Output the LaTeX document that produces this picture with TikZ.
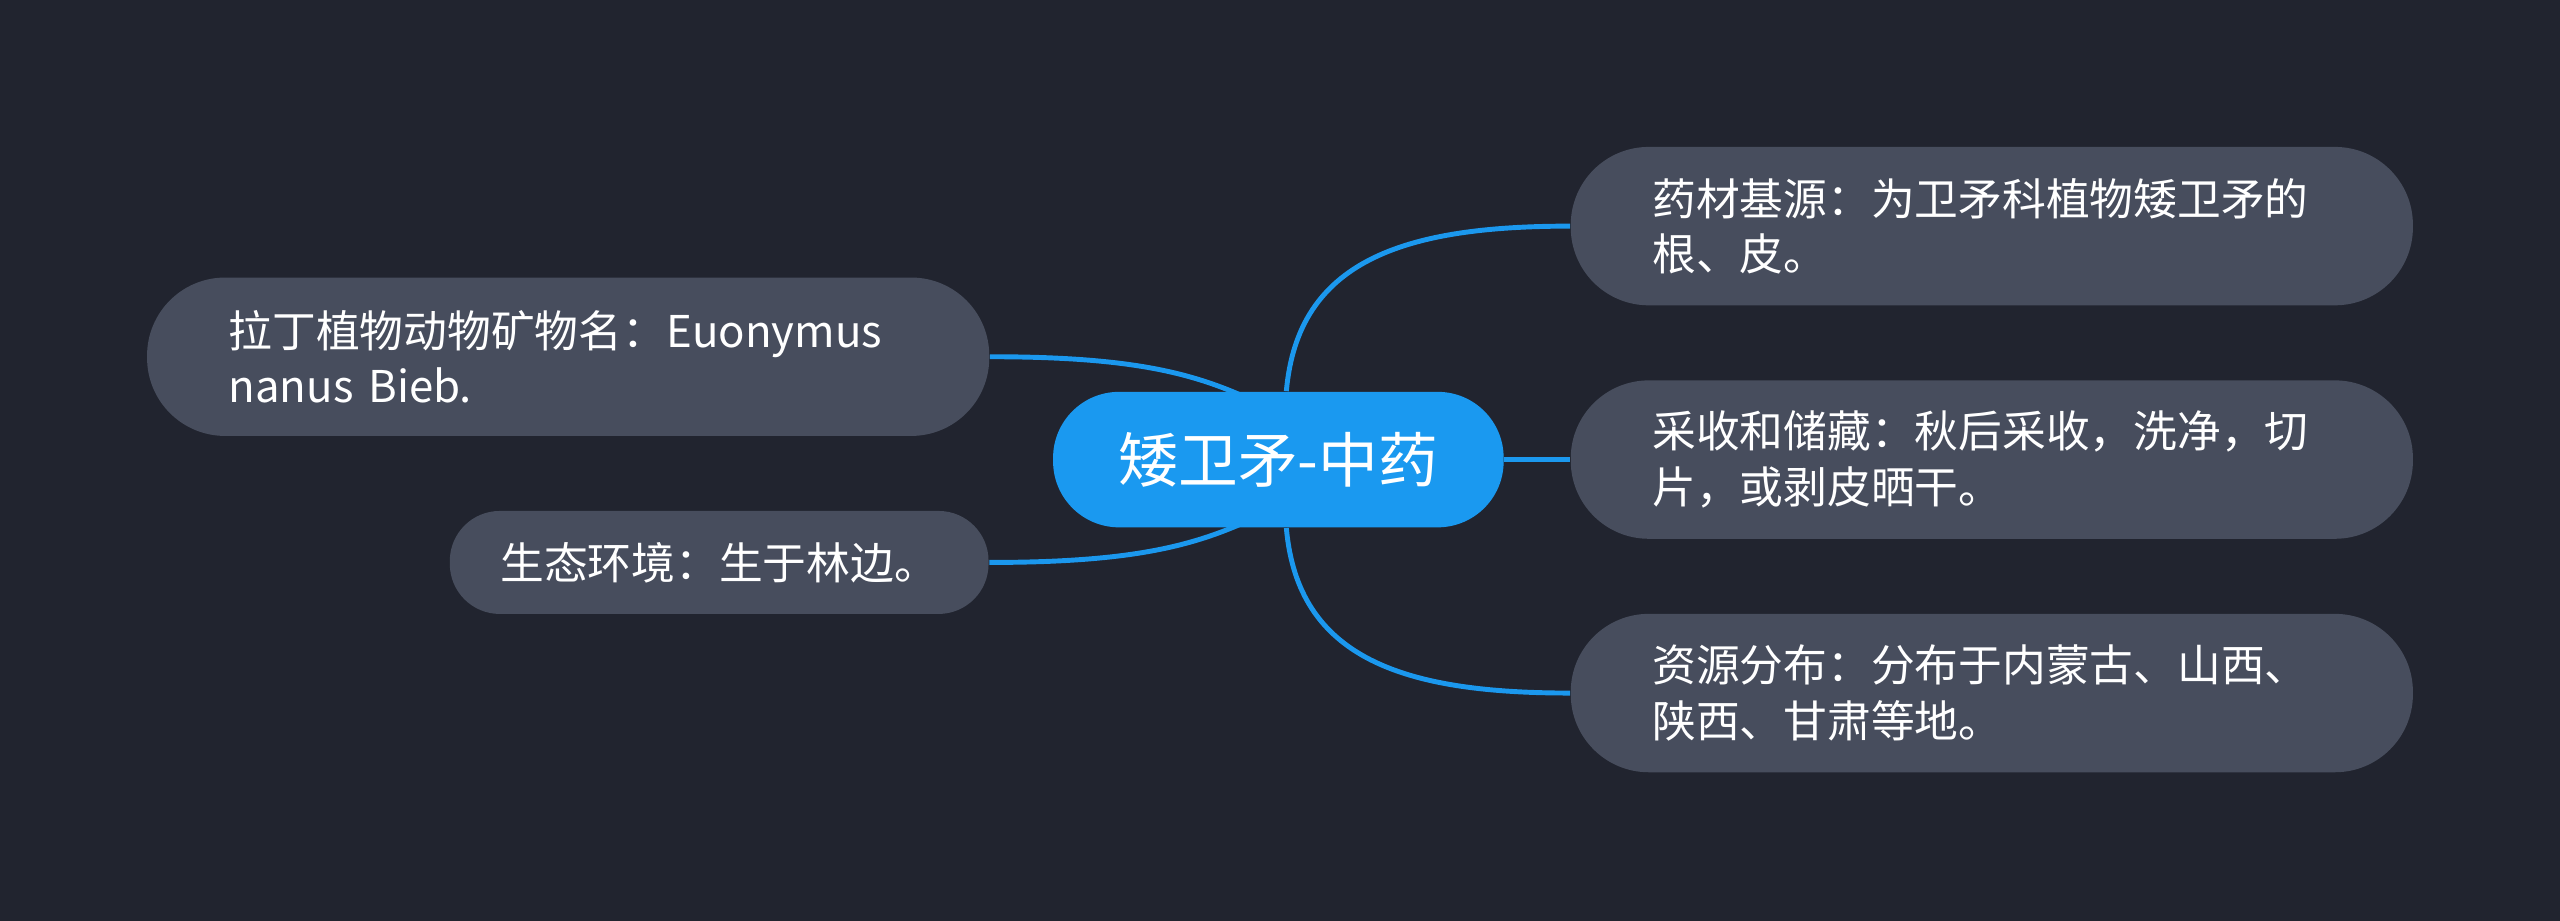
\documentclass[tikz,border=0pt]{standalone}
\usepackage{fontspec}
\newfontfamily\cjk{Noto Sans CJK SC}
\usetikzlibrary{backgrounds}
\definecolor{bgdark}{HTML}{21242F}
\definecolor{topicblue}{HTML}{1A99F0}
\definecolor{leafgray}{HTML}{474D5D}
\definecolor{linkblue}{HTML}{1B98EE}

\tikzset{
  leaf/.style={fill=leafgray, text=white,
    font=\cjk\fontsize{12.45}{15.8}\selectfont,
    align=left, inner ysep=0pt,
    minimum height=1.584cm, rounded corners=0.78cm},
  wideleaf/.style={leaf, text width=6.79cm, inner xsep=0.816cm},
  link/.style={draw=linkblue, line width=1.4pt}
}

\begin{document}
\begin{tikzpicture}[x=0.016327cm, y=-0.016327cm]
\useasboundingbox (0,0) rectangle (1568,564);

% Root topic
\node [fill=topicblue, text=white,
    font=\cjk\fontsize{17}{20}\selectfont,
    minimum width=4.506cm, minimum height=1.355cm,
    inner sep=0pt, rounded corners=0.66cm] (root) at (783,281.5) {矮卫矛-中药};

% Right branches
\node [wideleaf] (base) at (1220,138.5) {药材基源：为卫矛科植物矮卫矛的\\根、皮。};
\node [wideleaf] (harvest) at (1220,281.5) {采收和储藏：秋后采收，洗净，切\\片，或剥皮晒干。};
\node [wideleaf] (distrib) at (1220,424.5) {资源分布：分布于内蒙古、山西、\\陕西、甘肃等地。};

% Left branches
\node [wideleaf] (latin) at (348,218.5) {拉丁植物动物矿物名：Euonymus\\nanus Bieb.};
\node [leaf, inner xsep=0.506cm, minimum height=1.03cm,
    rounded corners=0.5cm] (habitat) at (440.5,344.5) {生态环境：生于林边。};

% Links (behind the topics)
\begin{scope}[on background layer]
\fill [bgdark] (0,0) rectangle (1568,564);
\draw [link] ([xshift=0.08cm]root.north) .. controls +(7,-80) and +(-102,0) .. (base.west);
\draw [link] (root.east) -- (harvest.west);
\draw [link] ([xshift=0.08cm]root.south) .. controls +(7,80) and +(-102,0) .. (distrib.west);
\draw [link] (latin.east) .. controls +(94,0) and +(-40,-20) .. ([shift={(-6,-31.5)}]root.center);
\draw [link] (habitat.east) .. controls +(94,0) and +(-40,20) .. ([shift={(-6,31.5)}]root.center);
\end{scope}

\end{tikzpicture}
\end{document}
